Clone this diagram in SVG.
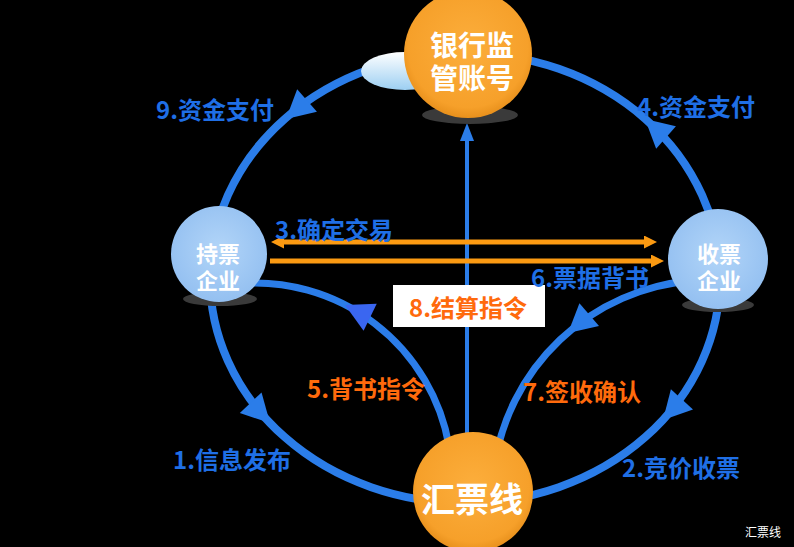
<svg xmlns="http://www.w3.org/2000/svg" xmlns:xlink="http://www.w3.org/1999/xlink" width="794" height="547" viewBox="0 0 794 547">
<style>
.ring{fill:none;stroke:#2b7de9;stroke-width:8}
.inner{fill:none;stroke:#2b7de9;stroke-width:7}
.ah{fill:#2b7de9}
.or{fill:none;stroke:#fb9a12;stroke-width:5}
.lbl{font-family:"Noto Sans CJK SC","Noto Sans",sans-serif;font-weight:700;font-size:24px;text-anchor:middle;dominant-baseline:central}
.blue{fill:#1f6fe6}
.orange{fill:#ff6a0c}
.nt{font-family:"Noto Sans CJK SC","Noto Sans",sans-serif;font-weight:700;fill:#ffffff;text-anchor:middle;dominant-baseline:central}
.shadow{fill:#3a3a3a}
</style>
<defs>
<radialGradient id="og" cx="50%" cy="45%" r="55%">
<stop offset="0%" stop-color="#fcae3c"/>
<stop offset="85%" stop-color="#f6a02a"/>
<stop offset="100%" stop-color="#e8901c"/>
</radialGradient>
<radialGradient id="bg" cx="50%" cy="45%" r="55%">
<stop offset="0%" stop-color="#b2d5f8"/>
<stop offset="100%" stop-color="#94c0f1"/>
</radialGradient>
<linearGradient id="cloud" x1="0" y1="0" x2="0" y2="1">
<stop offset="0%" stop-color="#ffffff"/>
<stop offset="100%" stop-color="#9ccff2"/>
</linearGradient>
<path id="head" d="M0,0 L-28,-15 L-28,15 Z"/>
<marker id="oa" markerUnits="userSpaceOnUse" markerWidth="14" markerHeight="14" refX="1" refY="6.5" orient="auto-start-reverse">
<path d="M0,0 L13,6.5 L0,13 Z" fill="#fb9a12"/>
</marker>
</defs>
<rect x="0" y="0" width="794" height="547" fill="#000000"/>

<g id="connectors">
<path class="ring" d="M465,53 A255,225 0 0 0 210,278"/>
<path class="ring" d="M210,278 A255,225 0 0 0 465,503"/>
<path class="ring" d="M720,278 A255,225 0 0 0 465,53"/>
<path class="ring" d="M720,278 A255,225 0 0 1 465,503"/>
<use href="#head" class="ah" transform="translate(286,119) rotate(138.7)"/>
<use href="#head" class="ah" transform="translate(645,119) rotate(-138.7)"/>
<use href="#head" class="ah" transform="translate(270,423) rotate(46.4)"/>
<use href="#head" class="ah" transform="translate(663,420) rotate(132.6)"/>
<path class="inner" d="M237.8,283.7 A197,197 0 0 1 449,445.8"/>
<use href="#head" fill="#3a66f0" transform="translate(345,305) rotate(-154)"/>
<path class="inner" d="M691,280.8 A218,218 0 0 0 494.1,467.7"/>
<use href="#head" class="ah" transform="translate(568,333) rotate(139.3)"/>
<line x1="467" y1="440" x2="467" y2="138" stroke="#2b7de9" stroke-width="4"/>
<polygon points="467,123 460,141 474,141" fill="#2b7de9"/>
<path class="or" d="M283,242 L645,242" marker-start="url(#oa)" marker-end="url(#oa)"/>
<path class="or" d="M270,261 L652,261" marker-end="url(#oa)"/>
</g>

<g id="settle-box">
<rect x="393" y="285" width="152" height="42" fill="#ffffff"/>
<text class="lbl orange" x="468" y="306">8.结算指令</text>
</g>

<g id="bank">
<ellipse cx="405" cy="71" rx="44" ry="19" fill="url(#cloud)"/>
<ellipse class="shadow" cx="470" cy="115" rx="48" ry="9"/>
<circle cx="468" cy="54" r="64" fill="url(#og)"/>
<text class="nt" x="472" y="44" font-size="28">银行监</text>
<text class="nt" x="472" y="77" font-size="28">管账号</text>
</g>

<g id="holder">
<ellipse class="shadow" cx="220" cy="299" rx="37" ry="7"/>
<circle cx="219" cy="254" r="48" fill="url(#bg)"/>
<text class="nt" x="218" y="252" font-size="22">持票</text>
<text class="nt" x="218" y="279" font-size="22">企业</text>
</g>

<g id="receiver">
<ellipse class="shadow" cx="718" cy="305" rx="36" ry="7"/>
<circle cx="718" cy="259" r="50" fill="url(#bg)"/>
<text class="nt" x="719" y="252" font-size="22">收票</text>
<text class="nt" x="719" y="279" font-size="22">企业</text>
</g>

<g id="huipiaoxian">
<circle cx="473" cy="492" r="60" fill="url(#og)"/>
<text class="nt" x="472" y="497" font-size="34">汇票线</text>
</g>

<g id="labels">
<text class="lbl blue" x="215" y="108">9.资金支付</text>
<text class="lbl blue" x="696" y="105">4.资金支付</text>
<text class="lbl blue" x="232" y="458">1.信息发布</text>
<text class="lbl blue" x="681" y="466">2.竞价收票</text>
<text class="lbl blue" x="334" y="228">3.确定交易</text>
<text class="lbl blue" x="590" y="276">6.票据背书</text>
<text class="lbl orange" x="582" y="390">7.签收确认</text>
<text class="lbl orange" x="366" y="387">5.背书指令</text>
</g>

<text x="763" y="531" font-family="Noto Sans CJK SC, sans-serif" font-size="12" fill="#ffffff" text-anchor="middle" dominant-baseline="central">汇票线</text>
</svg>
